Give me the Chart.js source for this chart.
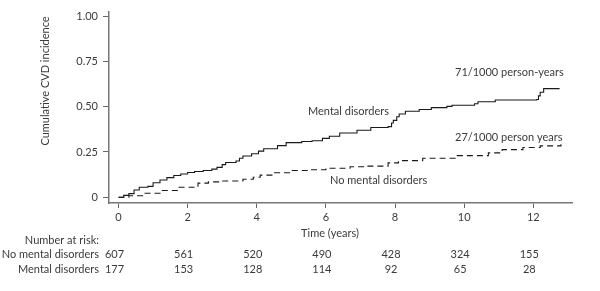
<!DOCTYPE html>
<html><head><meta charset="utf-8">
<script src="https://cdn.jsdelivr.net/npm/chart.js@4"></script>
<style>html,body{margin:0;padding:0;background:#fff}#wrap{width:600px;height:291px}</style>
</head><body><div id="wrap"><canvas id="c" width="600" height="291"></canvas></div>
<script>
// Kaplan-Meier style cumulative incidence
const mentalTime = [0,0.15,0.3,0.45,0.6,0.85,1.0,1.2,1.4,1.6,1.8,2.0,2.2,2.45,2.7,2.85,3.0,3.1,3.4,3.5,3.6,3.85,4.05,4.2,4.6,4.85,5.3,5.6,5.9,6.1,6.4,6.9,7.3,7.8,7.9,7.95,8.05,8.12,8.3,8.7,9.05,9.5,9.65,10.3,10.4,10.9,12.1,12.15,12.2,12.3,12.75];
const mentalInc  = [0,0.01,0.02,0.04,0.055,0.06,0.08,0.095,0.108,0.12,0.128,0.137,0.142,0.148,0.155,0.165,0.18,0.192,0.2,0.215,0.228,0.24,0.255,0.268,0.285,0.302,0.308,0.312,0.325,0.337,0.355,0.37,0.385,0.39,0.41,0.425,0.445,0.46,0.475,0.485,0.495,0.502,0.508,0.517,0.528,0.537,0.54,0.56,0.58,0.6,0.602];
const noMentalTime = [0,0.3,0.7,1.2,1.7,2.3,2.6,3.0,3.6,3.9,4.1,4.5,5.0,5.5,6.0,6.7,7.2,7.8,8.1,8.8,9.8,10.7,11.1,11.7,12.2,12.8];
const noMentalInc  = [0,0.008,0.022,0.037,0.055,0.078,0.085,0.09,0.099,0.11,0.122,0.135,0.148,0.152,0.16,0.168,0.172,0.19,0.202,0.215,0.23,0.245,0.263,0.275,0.284,0.293];
const xTicks = [0,2,4,6,8,10,12];
const yTicks = [0,0.25,0.5,0.75,1];
const riskTimes = [0,2,4,6,8,10,12];
const riskNoMental = [607,561,520,490,428,324,155];
const riskMental = [177,153,128,114,92,65,28];
const rowLabels = ['Number at risk:','No mental disorders','Mental disorders'];

const FONT = '11px Lato';
const TXT = '#3a3a3a';
Chart.defaults.font.family = 'Lato';
Chart.defaults.font.size = 11;
Chart.defaults.color = TXT;

const annot = {
  id:'annot',
  afterDraw(chart){
    const ctx = chart.ctx, xs = chart.scales.x;
    ctx.save();
    ctx.font = FONT; ctx.fillStyle = TXT; ctx.textBaseline = 'middle';
    ctx.textAlign = 'left';
    ctx.fillText('Mental disorders', 308, 111);
    ctx.fillText('No mental disorders', 330, 180);
    ctx.fillText('71/1000 person-years', 455, 72);
    ctx.fillText('27/1000 person years', 455, 137);
    ctx.textAlign = 'center';
    ctx.fillText('Time (years)', 330, 233);
    ctx.textAlign = 'right';
    ctx.fillText(rowLabels[0], 99, 240);
    ctx.fillText(rowLabels[1], 99, 254);
    ctx.fillText(rowLabels[2], 99, 269);
    ctx.textAlign = 'center';
    riskTimes.forEach((t,i)=>{
      const px = xs.getPixelForValue(t) - 4;
      ctx.fillText(String(riskNoMental[i]), px, 254);
      ctx.fillText(String(riskMental[i]), px, 269);
    });
    ctx.translate(45, 81);
    ctx.rotate(-Math.PI/2);
    ctx.fillText('Cumulative CVD incidence', 0, 0);
    ctx.restore();
  }
};

new Chart(document.getElementById('c'), {
  type:'line',
  data:{ datasets:[
    { label:'Mental disorders', data: mentalTime.map((t,i)=>({x:t,y:mentalInc[i]})),
      borderColor:'#1a1a1a', borderWidth:1.1, pointRadius:0, stepped:'before', fill:false },
    { label:'No mental disorders', data: noMentalTime.map((t,i)=>({x:t,y:noMentalInc[i]})),
      borderColor:'#1a1a1a', borderWidth:1.1, borderDash:[6,4], pointRadius:0, stepped:'before', fill:false }
  ]},
  options:{
    responsive:false, animation:false,
    layout:{ padding:{ left:0, right:28, top:3, bottom:0 } },
    plugins:{ legend:{display:false}, tooltip:{enabled:false} },
    scales:{
      x:{ type:'linear', min:-0.275, max:13.12,
        afterFit(s){ s.height = 88; },
        afterBuildTicks(s){ s.ticks = xTicks.map(v=>({value:v})); },
        grid:{ drawOnChartArea:false, drawTicks:true, tickLength:5, color:'#666' },
        border:{ display:true, color:'#777', width:1.5 },
        ticks:{ padding:3, maxRotation:0, autoSkip:false, font:{family:'Lato', size:11}, color:TXT }
      },
      y:{ type:'linear', min:-0.032, max:1.026,
        afterFit(s){ s.width = 109; },
        afterBuildTicks(s){ s.ticks = yTicks.map(v=>({value:v})); },
        grid:{ drawOnChartArea:false, drawTicks:true, tickLength:6, color:'#666' },
        border:{ display:true, color:'#777', width:1.5 },
        ticks:{ padding:5, autoSkip:false, font:{family:'Lato', size:11}, color:TXT,
          callback:v => v===0 ? '0' : v.toFixed(2) }
      }
    }
  },
  plugins:[annot]
});
</script></body></html>
